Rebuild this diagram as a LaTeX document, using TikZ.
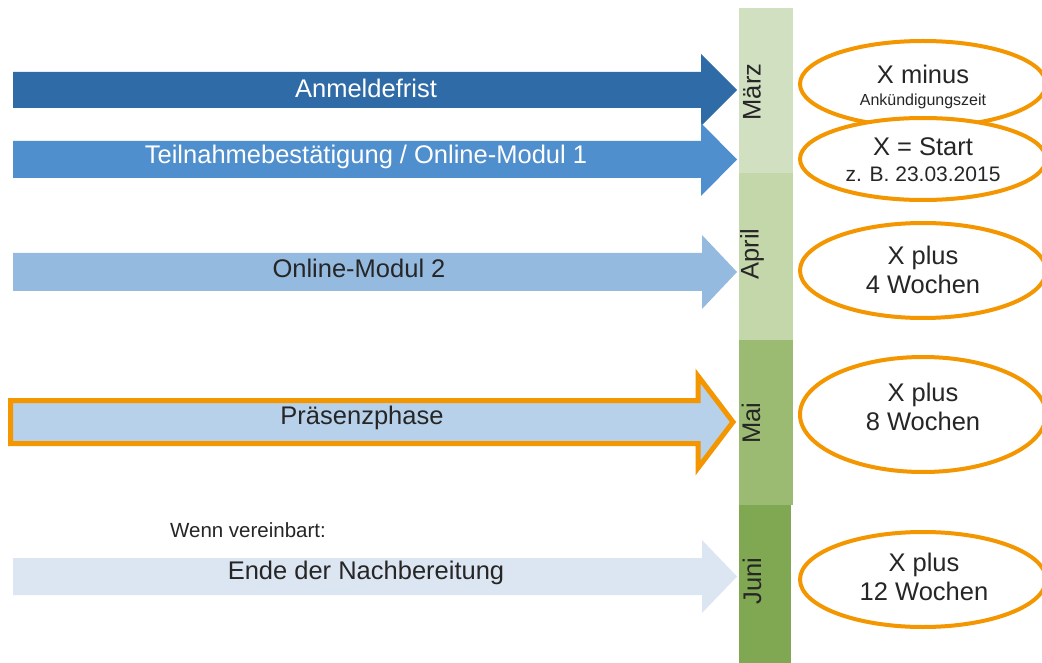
\documentclass[tikz,border=0pt]{standalone}
\usepackage{fontspec}
\setmainfont{Liberation Sans}
\usetikzlibrary{shapes.geometric}
\definecolor{aone}{RGB}{47,107,166}
\definecolor{atwo}{RGB}{79,143,205}
\definecolor{athree}{RGB}{149,186,224}
\definecolor{afour}{RGB}{184,209,234}
\definecolor{afive}{RGB}{220,230,242}
\definecolor{orng}{RGB}{243,150,0}
\definecolor{mmar}{RGB}{209,224,193}
\definecolor{mapr}{RGB}{196,215,171}
\definecolor{mmai}{RGB}{155,187,114}
\definecolor{mjun}{RGB}{128,168,82}
\definecolor{ink}{RGB}{38,38,38}
\begin{document}
\begin{tikzpicture}[x=1pt,y=-1pt,
  txt/.style={font=\fontsize{25.5}{29}\selectfont, text=ink, inner sep=0pt, align=center},
  smalltxt/.style={font=\fontsize{20.5}{24}\selectfont, text=ink, inner sep=0pt},
  ell/.style={ellipse, draw=orng, line width=4pt, fill=white, inner sep=0pt}]
\useasboundingbox (0,0) rectangle (1042,663);
\clip (0,0) rectangle (1042,663);
\fill[white] (0,0) rectangle (1042,663);
% month bar
\fill[mmar] (739,8) rectangle (793,173);
\fill[mapr] (739,173) rectangle (793,340);
\fill[mmai] (739,340) rectangle (793,505);
\fill[mjun] (739,505) rectangle (791,663);
\node[txt, rotate=90] (mmarz) at (752,92) {März};
\node[txt, rotate=90] (mapril) at (752,254) {April};
\node[txt, rotate=90] (mmaii) at (751,423) {Mai};
\node[txt, rotate=90] (mjuni) at (752,581) {Juni};
% arrows
\fill[aone] (13,72) -- (701,72) -- (701,54) -- (737,90) -- (701,126) -- (701,108) -- (13,108) -- cycle;
\fill[atwo] (13,141) -- (701,141) -- (701,123) -- (737,159.5) -- (701,196) -- (701,178) -- (13,178) -- cycle;
\fill[athree] (13,253) -- (702,253) -- (702,235) -- (737,272) -- (702,309) -- (702,291) -- (13,291) -- cycle;
\draw[orng, line width=5pt, fill=afour, line join=miter] (10.5,400.5) -- (698,400.5) -- (698,376) -- (733,422) -- (698,468) -- (698,443.5) -- (10.5,443.5) -- cycle;
\fill[afive] (13,558) -- (702,558) -- (702,540) -- (737,576.5) -- (702,613) -- (702,595) -- (13,595) -- cycle;
\node[txt, text=white] (lone) at (366,88) {Anmeldefrist};
\node[txt, text=white] (ltwo) at (366,157) {Teilnahmebestätigung / Online-Modul 1};
\node[txt] (lthree) at (359,268) {Online-Modul 2};
\node[txt] (lfour) at (362,418) {Präsenzphase};
\node[txt] (lfive) at (366,573) {Ende der Nachbereitung};
\node[smalltxt] (lwenn) at (248,530) {Wenn vereinbart:};
% ellipses
\node[ell, minimum width=246pt, minimum height=86pt] (eone) at (923,84) {};
\node[ell, minimum width=246pt, minimum height=82pt] (etwo) at (923,159) {};
\node[ell, minimum width=246pt, minimum height=95pt] (ethree) at (923,270.5) {};
\node[ell, minimum width=246pt, minimum height=115pt] (efour) at (923,414.5) {};
\node[ell, minimum width=246pt, minimum height=95pt] (efive) at (923,579.5) {};
\node[txt] (tonea) at (923,74) {X minus};
\node[font=\fontsize{16}{18}\selectfont, text=ink, inner sep=0pt] (toneb) at (923,101) {Ankündigungszeit};
\node[txt] (ttwoa) at (923,147) {X = Start};
\node[font=\fontsize{21}{24}\selectfont, text=ink, inner sep=0pt] (ttwob) at (923,174) {z. B. 23.03.2015};
\node[txt] (tthree) at (923,269.5) {X plus\\4 Wochen};
\node[txt] (tfour) at (923,407) {X plus\\8 Wochen};
\node[txt] (tfive) at (924,576.5) {X plus\\12 Wochen};
\end{tikzpicture}
\end{document}
